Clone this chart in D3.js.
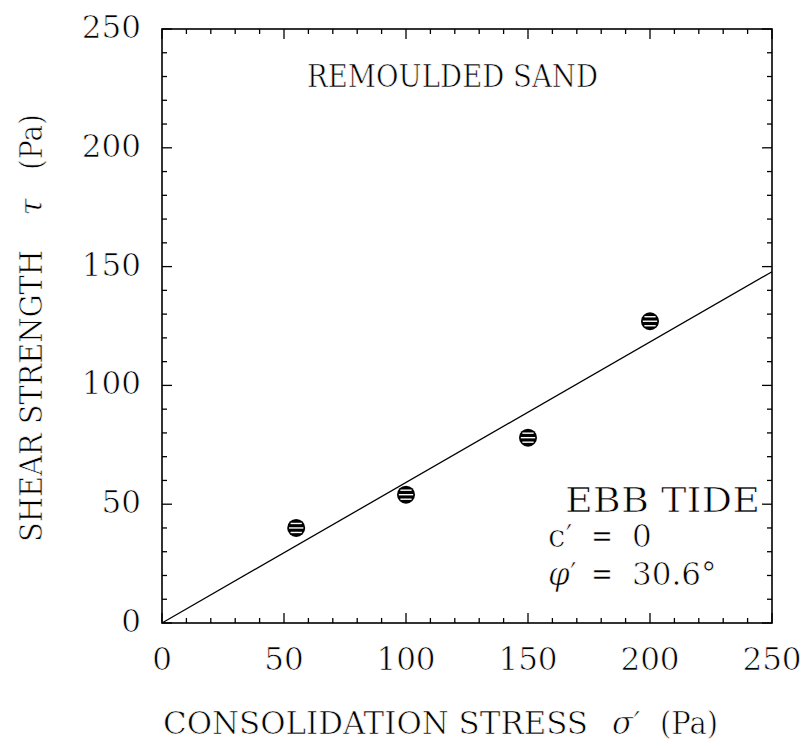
<!DOCTYPE html>
<html><head><meta charset="utf-8">
<script src="https://cdn.jsdelivr.net/npm/d3@7"></script>
<style>body{margin:0;background:#fff}svg{display:block}text{font-family:"DejaVu Serif",serif;fill:#000;stroke:#fff;stroke-width:0.7px}</style>
</head><body><svg id="c" width="805" height="748"></svg>
<script>
const stress = [55, 100, 150, 200];
const strength = [40, 54, 78, 127];
const xTicks = [0, 50, 100, 150, 200, 250];
const yTicks = [0, 50, 100, 150, 200, 250];
const cohesion = 0;
const phiDeg = 30.6;

const svg = d3.select("#c");
const M = {l:162, r:772, t:29, b:623};
const x = d3.scaleLinear().domain([0,250]).range([M.l, M.r]);
const y = d3.scaleLinear().domain([0,250]).range([M.b, M.t]);

// ticks (inward on all four sides)
const minor = d3.range(0,251,10);
const g = svg.append("g").attr("stroke","#000").attr("stroke-width",1.3);
minor.forEach(v=>{
  const L = v%50===0 ? 10 : 5;
  g.append("line").attr("x1",x(v)).attr("x2",x(v)).attr("y1",M.b).attr("y2",M.b-L);
  g.append("line").attr("x1",x(v)).attr("x2",x(v)).attr("y1",M.t).attr("y2",M.t+L);
  g.append("line").attr("y1",y(v)).attr("y2",y(v)).attr("x1",M.l).attr("x2",M.l+L);
  g.append("line").attr("y1",y(v)).attr("y2",y(v)).attr("x1",M.r).attr("x2",M.r-L);
});
svg.append("rect").attr("x",M.l).attr("y",M.t).attr("width",M.r-M.l).attr("height",M.b-M.t)
  .attr("fill","none").attr("stroke","#000").attr("stroke-width",1.6);

// tick labels
svg.append("g").selectAll("text").data(xTicks).join("text")
  .attr("x",d=>x(d)).attr("y",670).attr("text-anchor","middle").attr("font-size",31).text(d=>d);
svg.append("g").selectAll("text").data(yTicks).join("text")
  .attr("x",141).attr("y",d=>y(d)+9).attr("text-anchor","end").attr("font-size",31).text(d=>d);

// fit line
const tanPhi = Math.tan(phiDeg*Math.PI/180);
svg.append("line").attr("x1",x(0)).attr("y1",y(cohesion)).attr("x2",x(250)).attr("y2",y(cohesion+250*tanPhi))
  .attr("stroke","#000").attr("stroke-width",1.3);

// points: black discs with white horizontal stripes
const R = 9;
const pts = svg.append("g").selectAll("g").data(stress.map((s,i)=>[s,strength[i]])).join("g")
  .attr("transform",d=>`translate(${x(d[0])},${y(d[1])})`);
pts.append("circle").attr("r",R).attr("fill","#000");
[-4.5, 0, 4.5].forEach(dy=>{
  const hw = Math.sqrt(Math.max(0,(R-1.8)*(R-1.8)-dy*dy));
  pts.append("line").attr("x1",-hw).attr("x2",hw).attr("y1",dy).attr("y2",dy)
    .attr("stroke","#fff").attr("stroke-width",1.4);
});

// annotations
svg.append("text").attr("x",307).attr("y",87).attr("font-size",31)
  .attr("textLength",291).attr("lengthAdjust","spacingAndGlyphs").text("REMOULDED SAND");
svg.append("text").attr("x",565).attr("y",512).attr("font-size",33)
  .attr("textLength",195).attr("lengthAdjust","spacingAndGlyphs").text("EBB TIDE");
function eqLine(yy, lhs, italic, rhs){
  const t = svg.append("text").attr("x",548).attr("y",yy).attr("font-size",31);
  t.append("tspan").attr("font-style",italic?"italic":null).text(lhs);
  t.append("tspan").text("′");
  svg.append("text").attr("x",591).attr("y",yy).attr("font-size",31)
    .attr("textLength",22).attr("lengthAdjust","spacingAndGlyphs").text("=");
  svg.append("text").attr("x",632).attr("y",yy).attr("font-size",31).text(rhs);
}
eqLine(547, "c", false, String(cohesion));
eqLine(585, "φ", true, phiDeg+"°");

// axis titles
svg.append("text").attr("x",163).attr("y",734).attr("font-size",31)
  .attr("textLength",425).attr("lengthAdjust","spacingAndGlyphs").text("CONSOLIDATION STRESS");
svg.append("text").attr("x",612).attr("y",734).attr("font-size",31).attr("font-style","italic").text("σ′");
svg.append("text").attr("x",718).attr("y",734).attr("font-size",31).attr("text-anchor","end")
  .attr("textLength",58).attr("lengthAdjust","spacingAndGlyphs").text("(Pa)");

const yl = svg.append("g").attr("transform","translate(42,0) rotate(-90)");
yl.append("text").attr("x",-542).attr("y",0).attr("font-size",31)
  .attr("textLength",292).attr("lengthAdjust","spacingAndGlyphs").text("SHEAR STRENGTH");
yl.append("text").attr("x",-207).attr("y",0).attr("font-size",31).attr("font-style","italic")
  .attr("text-anchor","middle").text("τ");
yl.append("text").attr("x",-170).attr("y",0).attr("font-size",31)
  .attr("textLength",56).attr("lengthAdjust","spacingAndGlyphs").text("(Pa)");
</script></body></html>
